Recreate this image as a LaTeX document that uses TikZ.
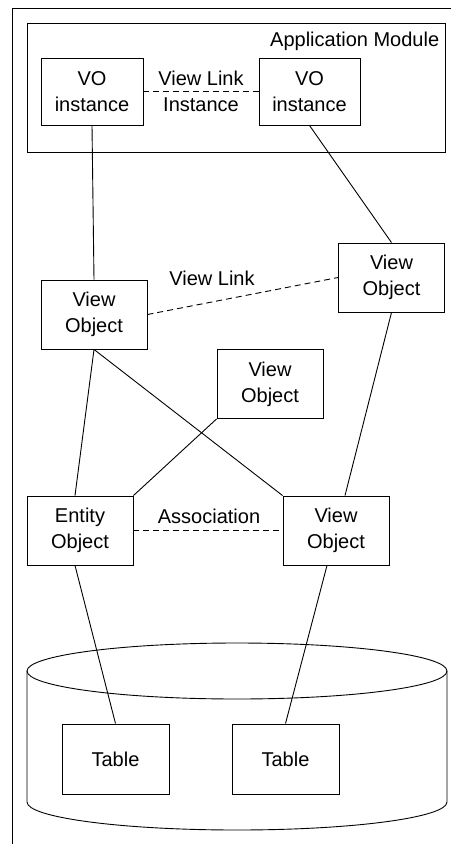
\documentclass[tikz,border=0pt]{standalone}
\usepackage{fontspec}
\setmainfont{Liberation Sans}
\usepackage{tikz}
\usetikzlibrary{calc}

\begin{document}
\begin{tikzpicture}[x=1pt, y=-1pt, line width=0.9pt,
  font=\fontsize{20}{26}\selectfont,
  obj/.style={draw, minimum width=106pt, minimum height=69pt, align=center, inner sep=0pt},
  link/.style={dash pattern=on 6pt off 4pt}]
\useasboundingbox (0,0) rectangle (451,844);

% frame
\draw (12,844) -- (12,8) -- (451,8);

% application module
\node[draw, minimum width=418pt, minimum height=129pt, inner sep=0pt] (am) at (236,87.5) {};
\node[anchor=north east] (amlabel) at (443,28) {Application Module};
\node[obj, minimum width=102pt, minimum height=67pt] (vi1) at (92,91.5) {VO\\instance};
\node[obj, minimum width=101pt, minimum height=67pt] (vi2) at (309.5,91.5) {VO\\instance};
\draw[link] (vi1.east) -- (vi2.west);
\node[align=center] (vli) at (201,91) {View Link\\Instance};

% view objects
\node[obj] (vo1) at (94,314.5) {View\\Object};
\node[obj] (vo2) at (391.5,277.5) {View\\Object};
\node[obj] (vo3) at (270,384) {View\\Object};
\draw[link] (vo1.east) -- (vo2.west);
\node (vl) at (212,278) {View Link};

% entity level
\node[obj] (eo) at (80,530.5) {Entity\\Object};
\node[obj] (vo4) at (336,530.5) {View\\Object};
\draw[link] (eo.east) -- (vo4.west);
\node (assoc) at (209,516) {Association};

% database
\draw (27,671) -- (27,802) arc[start angle=180, end angle=360, x radius=210, y radius=-28] -- (447,671);
\draw (237,671) ellipse [x radius=210, y radius=28];
\node[obj, minimum width=107pt, minimum height=70pt] (t1) at (115.5,759) {Table};
\node[obj, minimum width=107pt, minimum height=70pt] (t2) at (285.5,759) {Table};

% connectors
\draw (vi1.south) -- (vo1.north);
\draw (vi2.south) -- (vo2.north);
\draw (vo1.south) -- ($(eo.north)+(-5,0)$);
\draw (vo1.south) -- (vo4.north west);
\draw (vo3.south west) -- (eo.north east);
\draw (vo2.south) -- ($(vo4.north)+(9,0)$);
\draw ($(eo.south)+(-5,0)$) -- (t1.north);
\draw ($(vo4.south)+(-9,0)$) -- (t2.north);
\end{tikzpicture}
\end{document}
